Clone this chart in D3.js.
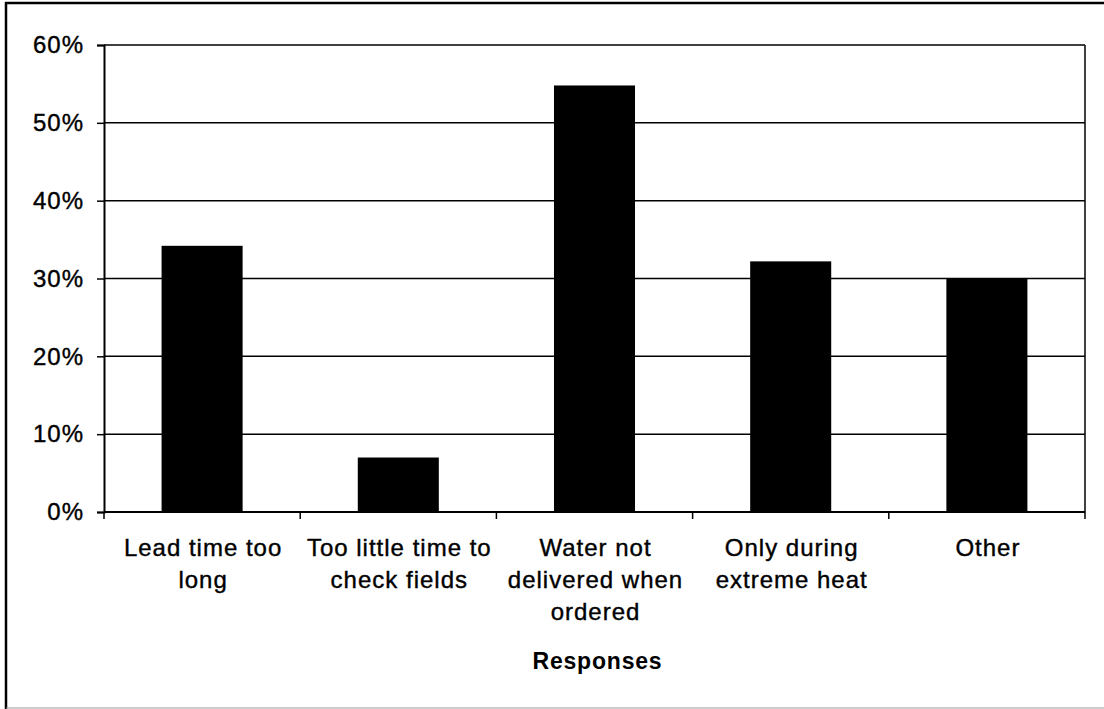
<!DOCTYPE html>
<html>
<head>
<meta charset="utf-8">
<script src="https://cdn.jsdelivr.net/npm/d3@7/dist/d3.min.js"></script>
<style>
  html, body { margin: 0; padding: 0; background: #fff; }
  svg { display: block; }
  text { font-family: "Liberation Sans", Arial, Helvetica, sans-serif; fill: #000; }
</style>
</head>
<body>
<svg id="chart" width="1104" height="709"></svg>
<script>
// ---- data ----
const categories = ["Lead time too long", "Too little time to check fields", "Water not delivered when ordered", "Only during extreme heat", "Other"];
const categoryLines = [
  ["Lead time too", "long"],
  ["Too little time to", "check fields"],
  ["Water not", "delivered when", "ordered"],
  ["Only during", "extreme heat"],
  ["Other"]
];
const values = [0.342, 0.070, 0.548, 0.322, 0.300];
const yTicks = [0, 0.1, 0.2, 0.3, 0.4, 0.5, 0.6];
const yTickLabels = ["0%", "10%", "20%", "30%", "40%", "50%", "60%"];
const axisTitle = "Responses";

// ---- layout ----
const svg = d3.select("#chart");
const W = 1104, H = 709;
const plot = { left: 104, right: 1085, top: 45, bottom: 512 };

// outer frame
svg.append("line").attr("x1", 6).attr("x2", 6).attr("y1", 2).attr("y2", H)
  .attr("stroke", "#000").attr("stroke-width", 2.5);
svg.append("line").attr("x1", 5).attr("x2", W).attr("y1", 3).attr("y2", 3)
  .attr("stroke", "#000").attr("stroke-width", 2.5);
svg.append("line").attr("x1", 6).attr("x2", W).attr("y1", 708).attr("y2", 708)
  .attr("stroke", "#999").attr("stroke-width", 1);

const x = d3.scaleBand()
  .domain(categories)
  .range([plot.left, plot.right])
  .paddingInner(0.587)
  .paddingOuter(0.587 / 2);

const y = d3.scaleLinear().domain([0, 0.6]).range([plot.bottom, plot.top]);

// gridlines
svg.append("g").selectAll("line").data(yTicks).join("line")
  .attr("x1", plot.left).attr("x2", plot.right)
  .attr("y1", d => y(d)).attr("y2", d => y(d))
  .attr("stroke", "#000").attr("stroke-width", 1.5);

// right border of plot
svg.append("line").attr("x1", plot.right).attr("x2", plot.right)
  .attr("y1", plot.top).attr("y2", plot.bottom)
  .attr("stroke", "#000").attr("stroke-width", 1.5);

// bars
svg.append("g").selectAll("rect").data(values).join("rect")
  .attr("x", (d, i) => x(categories[i]))
  .attr("width", x.bandwidth())
  .attr("y", d => y(d))
  .attr("height", d => y(0) - y(d))
  .attr("fill", "#000");

// y axis
const yAxis = d3.axisLeft(y).tickValues(yTicks)
  .tickFormat((d, i) => yTickLabels[i]).tickSize(7).tickPadding(14);
const gy = svg.append("g").attr("transform", `translate(${plot.left},0)`).call(yAxis);
gy.select(".domain").attr("stroke", "#000").attr("stroke-width", 2);
gy.selectAll(".tick line").attr("stroke", "#000").attr("stroke-width", 1.5);
gy.selectAll(".tick text")
  .style("font-family", "'Liberation Sans', Arial, sans-serif")
  .style("font-size", "24px").style("letter-spacing", "1px").attr("fill", "#000")
  .attr("stroke", "#000").attr("stroke-width", 0.4)
  .attr("dx", "1");

// x axis baseline + ticks at category boundaries
svg.append("line").attr("x1", plot.left).attr("x2", plot.right)
  .attr("y1", y(0)).attr("y2", y(0)).attr("stroke", "#000").attr("stroke-width", 2);
const boundaries = d3.range(categories.length + 1).map(i => x.range()[0] + i * x.step());
svg.append("g").selectAll("line").data(boundaries).join("line")
  .attr("x1", d => d).attr("x2", d => d)
  .attr("y1", y(0)).attr("y2", y(0) + 7)
  .attr("stroke", "#000").attr("stroke-width", 1.5);

// category labels
const lab = svg.append("g").selectAll("text").data(categoryLines).join("text")
  .attr("x", (d, i) => x(categories[i]) + x.bandwidth() / 2 + 1)
  .attr("y", 556)
  .attr("text-anchor", "middle")
  .attr("stroke", "#000").attr("stroke-width", 0.4)
  .style("font-size", "24px").style("letter-spacing", "1px");
lab.each(function(lines, i) {
  const t = d3.select(this);
  const cx = x(categories[i]) + x.bandwidth() / 2 + 1;
  lines.forEach((ln, j) => {
    t.append("tspan").attr("x", cx).attr("dy", j === 0 ? 0 : 32).text(ln);
  });
});

// axis title
svg.append("text")
  .attr("x", (plot.left + plot.right) / 2 + 3)
  .attr("y", 669)
  .attr("text-anchor", "middle")
  .style("font-size", "23px").style("font-weight", "bold").style("letter-spacing", "0.8px")
  .text(axisTitle);
</script>
</body>
</html>
